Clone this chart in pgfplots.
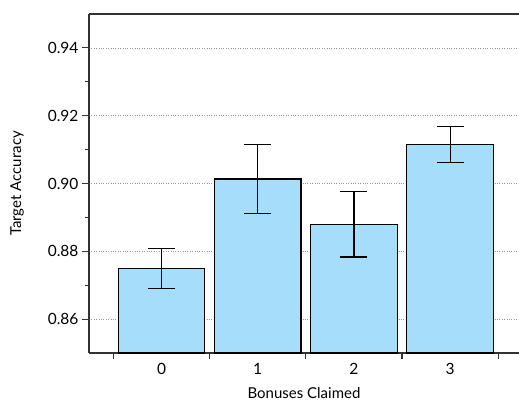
\documentclass[border=0pt]{standalone}
\usepackage{pgfplots}
\pgfplotsset{compat=1.18}
\usepackage{fontspec}
\setmainfont{Lato}
\definecolor{barblue}{RGB}{166,221,250}
\definecolor{axgray}{RGB}{50,50,50}
\begin{document}
\begin{tikzpicture}
\useasboundingbox (-89pt,-49pt) rectangle (430pt,353pt);
\begin{axis}[
  anchor=south west, at={(0,0)},
  scale only axis, width=430pt, height=339pt,
  xmin=-0.754, xmax=3.716, ymin=0.85, ymax=0.95,
  axis lines*=left,
  axis line style={axgray, line width=1.4pt},
  tick align=outside,
  major tick length=7pt, minor tick length=4pt,
  tick style={axgray, line width=1.2pt},
  ytick={0.86,0.88,0.90,0.92,0.94},
  minor ytick={0.87,0.89,0.91,0.93},
  yticklabel style={/pgf/number format/.cd, fixed, fixed zerofill, precision=2},
  /pgf/number format/assume math mode=true,
  xtick={0,1,2,3},
  xticklabels={0,1,2,3},
  major x tick style={draw=none},
  extra x ticks={-0.5,0.5,1.5,2.5,3.5},
  extra x tick labels={},
  extra x tick style={major tick length=6pt, major x tick style={draw=axgray, line width=1.2pt}},
  ymajorgrids,
  major grid style={dotted, gray!80, line width=0.7pt},
  tick label style={font=\fontsize{15.5}{18}\selectfont},
  label style={font=\fontsize{15}{18}\selectfont},
  xlabel={Bonuses Claimed},
  ylabel={Target Accuracy},
  ylabel style={at={(ticklabel cs:0.5)}, yshift=17pt},
  xlabel style={yshift=7pt, text depth=0pt},
  ybar,
]
\addplot[ybar, bar width=0.9, fill=barblue, draw=black, line width=1.2pt,
  error bars/.cd, y dir=both, y explicit,
  error bar style={line width=1.2pt, black},
  error mark options={rotate=90, mark size=13.5pt, line width=1.2pt, black}]
  table[x=x, y=y, y error=e] {
x y e
0 0.8749 0.0059
1 0.9013 0.0102
2 0.8880 0.0097
3 0.9115 0.0053
};
\draw[axgray, line width=1.4pt] (rel axis cs:0,1) -- (rel axis cs:1,1);
\end{axis}
\end{tikzpicture}
\end{document}
